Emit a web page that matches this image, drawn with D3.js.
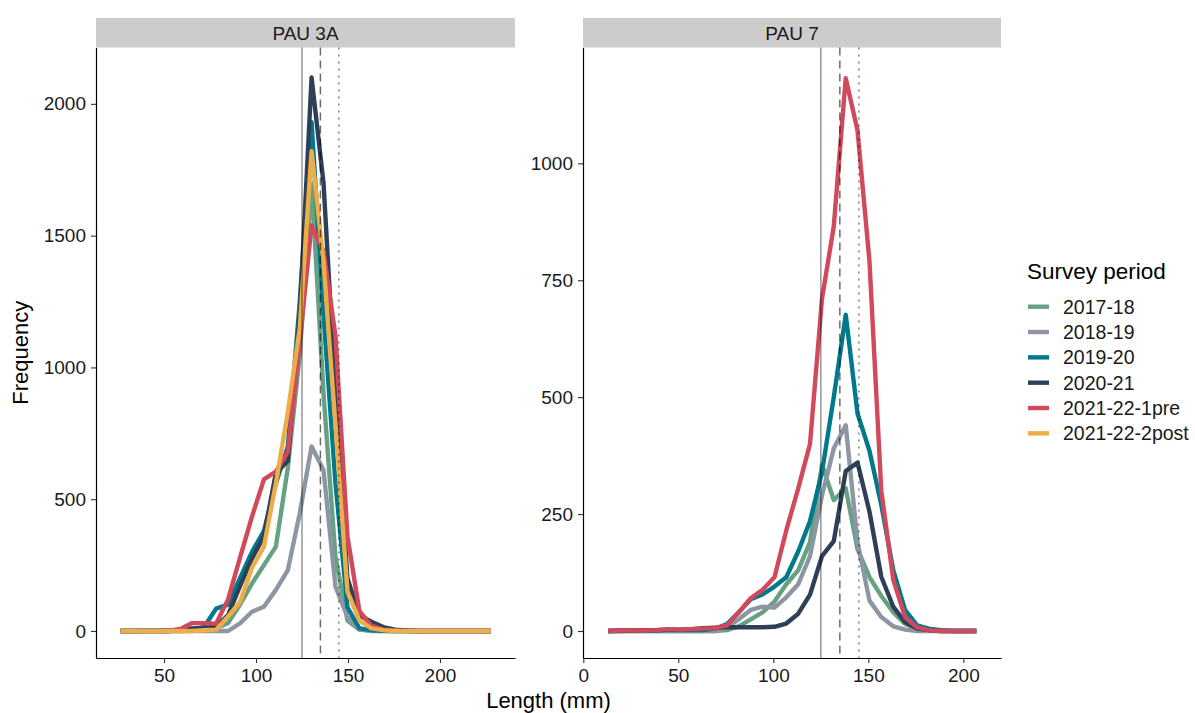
<!DOCTYPE html>
<html>
<head>
<meta charset="utf-8">
<script src="https://cdn.jsdelivr.net/npm/d3@7"></script>
<style>
  body { margin: 0; background: #ffffff; }
  svg { display: block; }
  text { font-family: 'Liberation Sans', Arial, Helvetica, sans-serif; }
</style>
</head>
<body>
<svg id="chart" width="1195" height="713"></svg>
<script>
// ---------------- DATA ----------------
const panels = ["PAU 3A", "PAU 7"];
const periods = ["2017-18", "2018-19", "2019-20", "2020-21", "2021-22-1pre", "2021-22-2post"];
const colors = ["#66a182", "#8d96a3", "#00798c", "#2e4057", "#d1495b", "#edae49"];

// bin centres (mm) of the frequency polygons
const lengthA = [26.4, 32.9, 39.4, 45.9, 52.4, 58.9, 65.3, 71.8, 78.3, 84.8, 91.3, 97.8, 104.3, 110.8, 117.3, 123.8,
                 130.2, 136.7, 143.2, 149.7, 156.2, 162.7, 169.2, 175.7, 182.2, 188.6, 195.1, 201.6, 208.1, 214.6, 221.1, 227.6];
const lengthB = [13.1, 19.3, 25.6, 31.8, 38.1, 44.3, 50.6, 56.8, 63.1, 69.3, 75.6, 81.8, 88.1, 94.3, 100.6, 106.8,
                 113.1, 119.3, 125.6, 131.8, 138.1, 144.3, 150.6, 156.8, 163.1, 169.3, 175.6, 181.8, 188.1, 194.3, 200.6, 206.8];

// PAU 3A frequencies
const pau3a_2017_18 = [0, 0, 0, 0, 0, 0, 2, 5, 10, 30, 100, 180, 250, 320, 620, 1050, 1700, 900, 280, 40, 5, 2, 0, 0, 0, 0, 0, 0, 0, 0, 0, 0];
const pau3a_2018_19 = [0, 0, 0, 0, 0, 0, 0, 0, 0, 0, 29, 73, 92, 156, 231, 447, 700, 611, 168, 54, 6, 0, 0, 0, 0, 0, 0, 0, 0, 0, 0, 0];
const pau3a_2019_20 = [0, 0, 1, 1, 2, 3, 5, 15, 85, 100, 200, 300, 380, 560, 700, 1250, 1930, 1200, 560, 90, 10, 3, 1, 0, 0, 0, 0, 0, 0, 0, 0, 0];
const pau3a_2020_21 = [0, 0, 0, 0, 0, 3, 10, 12, 16, 60, 170, 275, 360, 600, 645, 1200, 2100, 1700, 900, 200, 60, 35, 15, 5, 2, 0, 0, 0, 0, 0, 0, 0];
const pau3a_2021_22_1pre = [0, 0, 0, 0, 0, 8, 30, 30, 28, 120, 278, 434, 575, 605, 680, 1100, 1540, 1440, 1120, 360, 75, 20, 5, 2, 0, 0, 0, 0, 0, 0, 0, 0];
const pau3a_2021_22_2post = [0, 0, 0, 0, 0, 0, 0, 3, 5, 55, 110, 240, 320, 560, 830, 1150, 1820, 1400, 780, 150, 40, 10, 3, 0, 0, 0, 0, 0, 0, 0, 0, 0];

// PAU 7 frequencies
const pau7_2017_18 = [0, 0, 0, 0, 0, 0, 0, 0, 0, 0, 2, 10, 25, 40, 63, 100, 130, 190, 355, 280, 305, 175, 115, 75, 40, 15, 5, 1, 0, 0, 0, 0];
const pau7_2018_19 = [0, 0, 0, 0, 0, 0, 0, 0, 0, 0, 8, 25, 45, 52, 50, 72, 100, 160, 290, 390, 440, 190, 65, 30, 10, 3, 0, 0, 0, 0, 0, 0];
const pau7_2019_20 = [0, 0, 1, 1, 1, 2, 2, 2, 2, 5, 15, 40, 68, 78, 95, 115, 170, 235, 340, 500, 676, 465, 385, 270, 130, 45, 12, 5, 2, 0, 0, 0];
const pau7_2020_21 = [0, 1, 1, 2, 2, 3, 3, 4, 6, 7, 8, 8, 8, 8, 9, 16, 37, 78, 160, 192, 342, 360, 255, 116, 52, 19, 5, 2, 0, 0, 0, 0];
const pau7_2021_22_1pre = [0, 1, 1, 1, 2, 4, 3, 4, 5, 6, 12, 40, 70, 88, 115, 215, 305, 400, 710, 865, 1182, 1070, 790, 300, 110, 30, 8, 2, 0, 0, 0, 0];

const refLengths = [125, 135, 145];
const xTicksA = [50, 100, 150, 200];
const xTicksB = [0, 50, 100, 150, 200];
const yTicksA = [0, 500, 1000, 1500, 2000];
const yTicksB = [0, 250, 500, 750, 1000];

// ---------------- LAYOUT ----------------
const svg = d3.select("#chart");
const panelTop = 47.5, panelBottom = 658, stripTop = 18;
const refStyles = [
  { dash: null, opacity: 0.42, width: 1.5 },
  { dash: "8,5", opacity: 0.58, width: 1.5 },
  { dash: "2,5", opacity: 0.5, width: 1.5 }
];

const panelCfg = [
  { label: panels[0], x0: 96, x1: 515, xDomain: [13.0, 240.8], yDomain: [-102.5, 2213.8],
    lengths: lengthA, xTicks: xTicksA, yTicks: yTicksA,
    series: [pau3a_2017_18, pau3a_2018_19, pau3a_2019_20, pau3a_2020_21, pau3a_2021_22_1pre, pau3a_2021_22_2post] },
  { label: panels[1], x0: 583, x1: 1001, xDomain: [-0.16, 219.8], yDomain: [-57.7, 1247.6],
    lengths: lengthB, xTicks: xTicksB, yTicks: yTicksB,
    series: [pau7_2017_18, pau7_2018_19, pau7_2019_20, pau7_2020_21, pau7_2021_22_1pre, null] }
];

const fmt = d3.format("d");

panelCfg.forEach(p => {
  const x = d3.scaleLinear().domain(p.xDomain).range([p.x0, p.x1]);
  const y = d3.scaleLinear().domain(p.yDomain).range([panelBottom, panelTop]);

  // strip
  svg.append("rect")
    .attr("x", p.x0).attr("y", stripTop)
    .attr("width", p.x1 - p.x0).attr("height", panelTop - stripTop)
    .attr("fill", "#cccccc");
  svg.append("text")
    .attr("x", (p.x0 + p.x1) / 2).attr("y", 39.5)
    .attr("text-anchor", "middle")
    .attr("font-size", "19px").attr("fill", "#1a1a1a")
    .text(p.label);

  // lines
  const line = d3.line()
    .x((d, i) => x(p.lengths[i]))
    .y(d => y(d));
  p.series.forEach((vals, si) => {
    if (!vals) return;
    svg.append("path")
      .datum(vals)
      .attr("d", line)
      .attr("fill", "none")
      .attr("stroke", colors[si])
      .attr("stroke-width", 4.4)
      .attr("stroke-linejoin", "round")
      .attr("stroke-linecap", "butt");
  });

  // reference lines
  refLengths.forEach((r, i) => {
    const s = refStyles[i];
    const l = svg.append("line")
      .attr("x1", x(r)).attr("x2", x(r))
      .attr("y1", panelTop).attr("y2", panelBottom)
      .attr("stroke", "#000")
      .attr("stroke-opacity", s.opacity)
      .attr("stroke-width", s.width);
    if (s.dash) l.attr("stroke-dasharray", s.dash);
  });

  // axes
  const gx = svg.append("g")
    .attr("transform", `translate(0,${panelBottom})`)
    .call(d3.axisBottom(x).tickValues(p.xTicks).tickFormat(fmt).tickSize(5).tickPadding(6).tickSizeOuter(0));
  const gy = svg.append("g")
    .attr("transform", `translate(${p.x0},0)`)
    .call(d3.axisLeft(y).tickValues(p.yTicks).tickFormat(fmt).tickSize(5).tickPadding(5).tickSizeOuter(0));
  [gx, gy].forEach(g => {
    g.select(".domain").attr("stroke", "#000").attr("stroke-width", 1.2);
    g.selectAll(".tick line").attr("stroke", "#333").attr("stroke-width", 1.1);
    g.selectAll(".tick text").attr("font-size", "19px").attr("fill", "#1a1a1a")
      .attr("font-family", "'Liberation Sans', Arial, Helvetica, sans-serif");
  });
});

// axis titles
svg.append("text")
  .attr("x", (96 + 1001) / 2).attr("y", 708)
  .attr("text-anchor", "middle")
  .attr("font-size", "22px").attr("fill", "#000")
  .text("Length (mm)");
svg.append("text")
  .attr("transform", `translate(28,${(panelTop + panelBottom) / 2}) rotate(-90)`)
  .attr("text-anchor", "middle")
  .attr("font-size", "22px").attr("fill", "#000")
  .text("Frequency");

// legend
const legend = svg.append("g");
legend.append("text")
  .attr("x", 1027).attr("y", 279)
  .attr("font-size", "22.5px").attr("fill", "#000")
  .text("Survey period");
periods.forEach((name, i) => {
  const cy = 306.7 + 25.33 * i;
  legend.append("line")
    .attr("x1", 1028).attr("x2", 1049)
    .attr("y1", cy).attr("y2", cy)
    .attr("stroke", colors[i]).attr("stroke-width", 4.4);
  legend.append("text")
    .attr("x", 1063).attr("y", cy + 6.9)
    .attr("font-size", "19.5px").attr("fill", "#1a1a1a")
    .text(name);
});
</script>
</body>
</html>
